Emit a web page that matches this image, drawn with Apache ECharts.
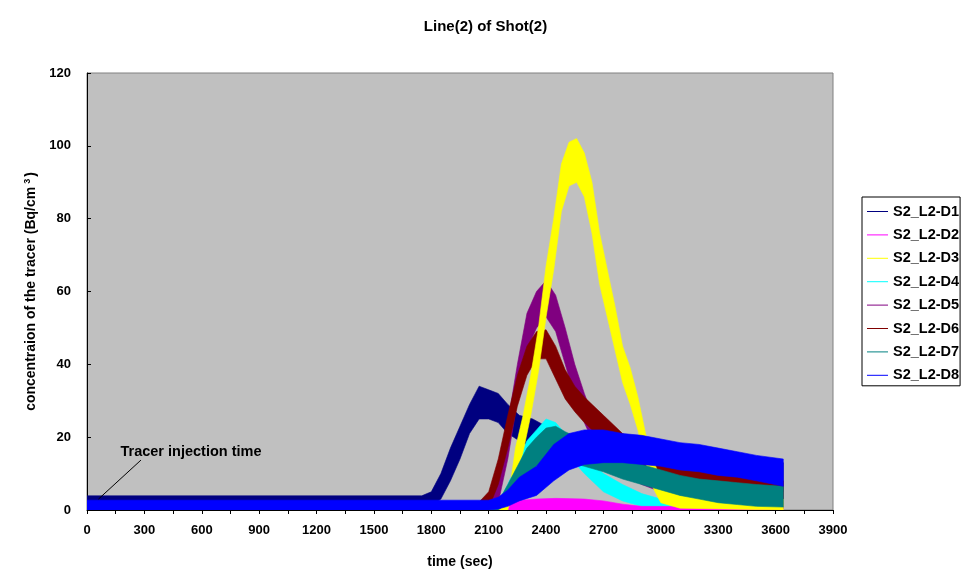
<!DOCTYPE html>
<html>
<head>
<meta charset="utf-8">
<script src="https://cdn.jsdelivr.net/npm/echarts@6/dist/echarts.min.js"></script>
<style>
  html, body { margin: 0; padding: 0; background: #fff; }
  #chart { width: 971px; height: 581px; }
</style>
</head>
<body>
<div id="chart"></div>
<script>
// values: each detector is drawn as the band its noisy trace fills
const xTicks = [0, 300, 600, 900, 1200, 1500, 1800, 2100, 2400, 2700, 3000, 3300, 3600, 3900];
const yTicks = [0, 20, 40, 60, 80, 100, 120];

const d1Time = [0, 1750, 1800, 1850, 1900, 1950, 2000, 2050, 2100, 2150, 2200, 2260, 2330, 2400, 2500, 2600, 2800, 3000, 3200, 3400, 3640];
const d1Low  = [0, 0, 1, 3, 8, 14, 21, 25, 25, 24, 21, 19, 17, 15, 13, 12, 10, 8, 7, 6, 5];
const d1High = [3.9, 3.9, 5, 10, 17, 23, 29, 34, 33, 32, 29, 26, 25, 23, 21, 19, 17, 16, 15, 14, 13];

const d2Time = [0, 2200, 2250, 2350, 2450, 2600, 2700, 2800, 2900, 3640];
const d2Low  = [0, 0, 0, 0, 0, 0, 0, 0, 0, 0];
const d2High = [2, 2, 2.6, 3, 3.2, 3, 2.5, 1.6, 1, 0.8];

const d3Time = [0, 2200, 2240, 2280, 2320, 2360, 2400, 2440, 2480, 2520, 2560, 2600, 2640, 2680, 2720, 2760, 2800, 2840, 2880, 2920, 2960, 3000, 3100, 3640];
const d3Low  = [0, 0, 8, 16, 26, 38, 53, 66, 82, 89, 90, 86, 76, 62, 53, 44, 35, 29, 22, 13, 6, 2, 0.5, 0];
const d3High = [2.2, 2.2, 17, 26, 37, 50, 67, 80, 95, 101, 102, 98, 90, 76, 66, 56, 45, 39, 31, 21, 14, 8, 4, 3];

const d4Time = [0, 2150, 2200, 2250, 2300, 2350, 2400, 2450, 2500, 2550, 2600, 2700, 2800, 2900, 3000, 3150, 3300, 3640];
const d4Low  = [0, 0, 2, 6, 11, 15, 17, 17, 15, 13, 10, 5, 2.5, 1, 0, 0, 0, 0];
const d4High = [2.2, 2.2, 7, 13, 19, 22, 25, 24, 21, 18, 14.5, 10, 7, 4.5, 3, 2, 1.5, 0.8];

const d5Time = [0, 2100, 2150, 2200, 2250, 2300, 2350, 2400, 2450, 2500, 2550, 2600, 2650, 2700, 2800, 2900, 3000, 3200, 3400, 3640];
const d5Low  = [0, 0, 2, 14, 30, 44, 50, 53, 49, 40, 31, 24, 18, 14, 10, 7, 5, 3, 1.5, 0.5];
const d5High = [2.2, 2.2, 8, 24, 40, 54, 60, 63, 59, 50, 40, 32, 25, 21, 16, 13, 11, 8, 6, 5];

const d6Time = [0, 2050, 2100, 2150, 2200, 2250, 2300, 2350, 2400, 2450, 2500, 2550, 2600, 2700, 2800, 2900, 3000, 3100, 3200, 3400, 3640];
const d6Low  = [0, 0, 0.5, 7, 17, 28.5, 37, 41.5, 41.5, 36, 30.5, 27, 24, 19, 14.5, 11, 8.5, 7, 5.5, 4, 3];
const d6High = [2.2, 2.2, 5, 14, 26, 37, 45, 49, 49.5, 45, 38.5, 34, 31, 26, 21, 18, 15.5, 13, 11, 9, 8];

const d7Time = [0, 2150, 2200, 2250, 2300, 2350, 2400, 2450, 2500, 2600, 2700, 2800, 2900, 3000, 3100, 3200, 3300, 3400, 3500, 3640];
const d7Low  = [0, 0, 2, 6, 9.5, 12, 13.5, 14, 13.5, 12, 10.5, 8.5, 7, 5.5, 4, 3, 2, 1.5, 1, 0.8];
const d7High = [2.2, 2.2, 7, 12, 17, 20, 22.5, 23, 21.5, 19, 16, 14, 12.5, 11, 9.5, 8.5, 8, 7.5, 7, 6.5];

const d8Time = [0, 2100, 2150, 2200, 2260, 2350, 2440, 2520, 2600, 2700, 2800, 2900, 3000, 3100, 3200, 3300, 3400, 3500, 3640];
const d8Low  = [0, 0, 0.3, 1, 2.5, 4, 8, 11, 12.5, 13, 13, 12.5, 12, 11, 10.5, 9.5, 9, 8, 6.5];
const d8High = [2.7, 2.7, 3.5, 5.5, 9, 12, 18, 21, 22, 22, 21, 20.5, 19.5, 18.5, 18, 17, 16, 15, 14];

const detectors = [
  { name: "S2_L2-D1", color: "#000080", time: d1Time, low: d1Low, high: d1High },
  { name: "S2_L2-D2", color: "#FF00FF", time: d2Time, low: d2Low, high: d2High },
  { name: "S2_L2-D3", color: "#FFFF00", time: d3Time, low: d3Low, high: d3High },
  { name: "S2_L2-D4", color: "#00FFFF", time: d4Time, low: d4Low, high: d4High },
  { name: "S2_L2-D5", color: "#800080", time: d5Time, low: d5Low, high: d5High },
  { name: "S2_L2-D6", color: "#800000", time: d6Time, low: d6Low, high: d6High },
  { name: "S2_L2-D7", color: "#008080", time: d7Time, low: d7Low, high: d7High },
  { name: "S2_L2-D8", color: "#0000FF", time: d8Time, low: d8Low, high: d8High },
];
// painting order, bottom first
const drawOrder = ["S2_L2-D1", "S2_L2-D4", "S2_L2-D2", "S2_L2-D5", "S2_L2-D6", "S2_L2-D3", "S2_L2-D7", "S2_L2-D8"];

const noteText = "Tracer injection time";
const noteAt = [175, 15.9];
const noteFrom = [282, 13.7];
const noteTo = [60, 3];

const FONT = "Arial, 'Liberation Sans', sans-serif";
const bold = { color: "#000", fontWeight: "bold", fontFamily: FONT };

// one polygon per detector: upper edge left to right, lower edge back
const bandSeries = (det) => ({
  type: "custom",
  name: det.name,
  silent: true,
  animation: false,
  clip: true,
  itemStyle: { color: det.color },
  encode: { x: 0, y: [1, 2] },
  data: det.time.map((t, i) => [t, det.low[i], det.high[i]]),
  renderItem: (params, api) => {
    if (params.dataIndex !== 0) return null;
    const top = det.time.map((t, i) => api.coord([t, det.high[i]]));
    const bottom = det.time.map((t, i) => api.coord([t, det.low[i]])).reverse();
    return {
      type: "polygon",
      shape: { points: top.concat(bottom) },
      style: { fill: det.color, stroke: det.color, lineWidth: 0.6 },
    };
  },
});

const series = drawOrder.map((name) => bandSeries(detectors.find((d) => d.name === name)));

const chart = echarts.init(document.getElementById("chart"), null, { renderer: "canvas" });

chart.setOption({
  backgroundColor: "#fff",
  animation: false,
  title: {
    text: "Line(2) of Shot(2)",
    left: "center",
    top: 14,
    textStyle: { ...bold, fontSize: 15 },
  },
  grid: {
    left: 87, right: 138, top: 73, bottom: 71,
    show: true,
    backgroundColor: "#C0C0C0",
    borderColor: "#808080",
    borderWidth: 1,
  },
  legend: {
    orient: "vertical",
    left: 862,
    top: 197,
    data: detectors.map((d) => ({ name: d.name, icon: "rect" })),
    itemWidth: 21,
    itemHeight: 1,
    itemGap: 8.4,
    padding: [7, 1, 3, 5],
    borderColor: "#000",
    borderWidth: 1,
    backgroundColor: "#fff",
    selectedMode: false,
    formatter: (name) => `{t|${name}}`,
    textStyle: { ...bold, fontSize: 14.5, rich: { t: { ...bold, fontSize: 14.5 } } },
  },
  xAxis: {
    type: "value",
    min: xTicks[0],
    max: xTicks[xTicks.length - 1],
    interval: 300,
    name: "time (sec)",
    nameLocation: "middle",
    nameGap: 45,
    nameTextStyle: { ...bold, fontSize: 14 },
    axisLine: { show: true, lineStyle: { color: "#000", width: 1 } },
    axisTick: { show: true, length: 4, lineStyle: { color: "#000" } },
    minorTick: { show: true, splitNumber: 2, length: 4, lineStyle: { color: "#000" } },
    axisLabel: { ...bold, fontSize: 13, margin: 14, formatter: (v) => String(v) },
    splitLine: { show: false },
  },
  yAxis: {
    type: "value",
    min: yTicks[0],
    max: yTicks[yTicks.length - 1],
    interval: 20,
    name: "{a|concentraion of the tracer (Bq/cm}{s|3}{a|)}",
    nameLocation: "middle",
    nameGap: 45,
    nameTextStyle: {
      rich: {
        a: { ...bold, fontSize: 14, lineHeight: 17 },
        s: { ...bold, fontSize: 9, verticalAlign: "top", lineHeight: 17, padding: [0, 2, 0, 3] },
      },
    },
    axisLine: { show: true, lineStyle: { color: "#000", width: 1 } },
    axisTick: { show: true, inside: true, length: 4, lineStyle: { color: "#000" } },
    axisLabel: { ...bold, fontSize: 13, margin: 16, formatter: (v) => String(v) },
    splitLine: { show: false },
  },
  series,
});

// injection-time note, placed through the chart's own scales
const p = (v) => chart.convertToPixel({ gridIndex: 0 }, v);
const a = p(noteFrom), b = p(noteTo), c = p(noteAt);
chart.setOption({
  graphic: [
    {
      type: "line",
      z: 100,
      shape: { x1: a[0], y1: a[1], x2: b[0], y2: b[1] },
      style: { stroke: "#000", lineWidth: 1 },
    },
    {
      type: "text",
      z: 100,
      x: c[0],
      y: c[1],
      style: { text: noteText, fill: "#000", font: "bold 14.5px " + FONT, verticalAlign: "middle" },
    },
  ],
});
</script>
</body>
</html>
